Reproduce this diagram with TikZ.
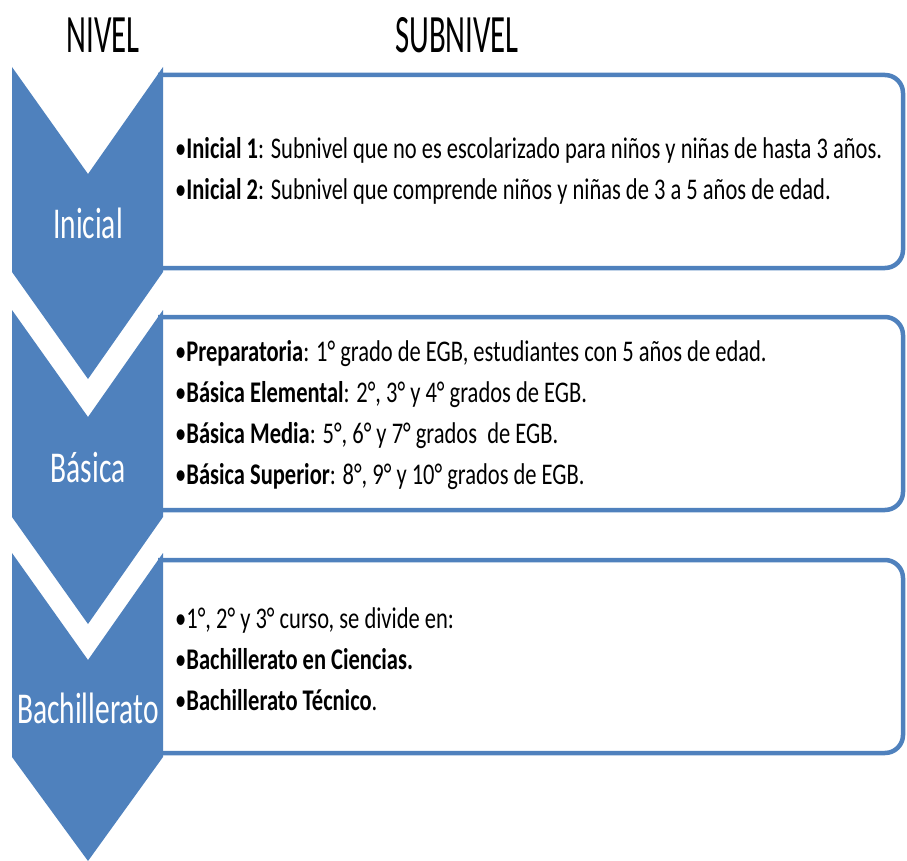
\documentclass[tikz,border=0pt]{standalone}
\usepackage{fontspec}
\setmainfont{Carlito}[FakeStretch=0.67]
\newfontfamily\titulofont{Carlito}[FakeStretch=0.57]
\newfontfamily\detallefont{Carlito}[FakeStretch=0.75]
\definecolor{azul}{HTML}{4F81BD}

\begin{document}
\begin{tikzpicture}[
    x=1pt, y=-1pt,
    titulo/.style={font=\titulofont\fontsize{54}{54}\selectfont, inner sep=0pt, anchor=base},
    nivel/.style={text=white, font=\fontsize{44}{44}\selectfont, inner sep=0pt, anchor=base},
    caja/.style={draw=azul, line width=4.5pt, fill=white, rounded corners=18pt},
    detalle/.style={align=left, anchor=west, inner sep=0pt, font=\detallefont\fontsize{30}{41}\selectfont}
]
\useasboundingbox (0,0) rectangle (907,861);

% Titulos
\node[titulo] (nivel) at (103,53) {NIVEL};
\node[titulo] (subnivel) at (457,53) {SUBNIVEL};

% Cajas
\draw[caja] (158,75) -- (903,75) -- (903,268) -- (158,268);
\draw[caja] (158,317) -- (903,317) -- (903,510) -- (158,510);
\draw[caja] (158,560) -- (903,560) -- (903,753) -- (158,753);

% Flechas
\fill[azul] (12,67) -- (88,174) -- (163,67) -- (163,272) -- (88,379) -- (12,272) -- cycle;
\fill[azul] (12,310) -- (88,417) -- (163,310) -- (163,517) -- (88,624) -- (12,517) -- cycle;
\fill[azul] (12,553) -- (88,660) -- (163,553) -- (163,757) -- (88,861) -- (12,757) -- cycle;

\node[nivel] (inicial) at (88,238) {Inicial};
\node[nivel] (basica) at (88,482) {Básica};
\node[nivel] (bachillerato) at (88,723) {Bachillerato};

% Subniveles
\node[detalle] (subinicial) at (175,171) {%
    •\textbf{Inicial 1}: Subnivel que no es escolarizado para niños y niñas de hasta 3 años.\\
    •\textbf{Inicial 2}: Subnivel que comprende niños y niñas de 3 a 5 años de edad.};
\node[detalle] (subbasica) at (175,415) {%
    •\textbf{Preparatoria}: 1° grado de EGB, estudiantes con 5 años de edad.\\
    •\textbf{Básica Elemental}: 2°, 3° y 4° grados de EGB.\\
    •\textbf{Básica Media}: 5°, 6° y 7° grados\ \ de EGB.\\
    •\textbf{Básica Superior}: 8°, 9° y 10° grados de EGB.};
\node[detalle] (subbachillerato) at (175,659) {%
    •1°, 2° y 3° curso, se divide en:\\
    •\textbf{Bachillerato en Ciencias.}\\
    •\textbf{Bachillerato Técnico}.};

\end{tikzpicture}
\end{document}
